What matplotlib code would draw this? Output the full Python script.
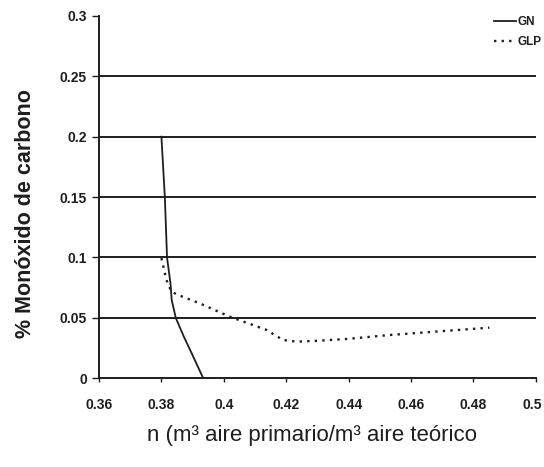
import matplotlib
matplotlib.use("Agg")
import matplotlib.pyplot as plt
import matplotlib.transforms as mtransforms

gn_x = [0.3800, 0.3811, 0.3818, 0.3829, 0.3833, 0.3846, 0.3872, 0.3897, 0.3934]
gn_y = [0.200, 0.150, 0.100, 0.0786, 0.0648, 0.050, 0.0344, 0.0207, 0.000]

glp_x = [0.3800, 0.3816, 0.3832, 0.3853, 0.3923, 0.4019, 0.4137, 0.4163, 0.4190,
         0.4233, 0.4297, 0.4393, 0.4531, 0.4851]
glp_y = [0.0995, 0.0814, 0.0717, 0.0690, 0.0620, 0.0510, 0.0400, 0.0358, 0.0317,
         0.0303, 0.0310, 0.0325, 0.0358, 0.0419]

xticks = [0.36, 0.38, 0.4, 0.42, 0.44, 0.46, 0.48, 0.5]
xticklabels = ["0.36", "0.38", "0.4", "0.42", "0.44", "0.46", "0.48", "0.5"]
yticks = [0, 0.05, 0.1, 0.15, 0.2, 0.25, 0.3]
yticklabels = ["0", "0.05", "0.1", "0.15", "0.2", "0.25", "0.3"]
grid_y = [0.05, 0.1, 0.15, 0.2, 0.25]

plt.rcParams['font.family'] = ['Liberation Sans', 'DejaVu Sans']
ink = '#1e1e1e'

fig = plt.figure(figsize=(5.44, 4.67), dpi=100)
ax = fig.add_axes([0.182, 0.19, 0.803, 0.776])

for g in grid_y:
    ax.axhline(g, color=ink, lw=1.4, zorder=1)

ax.plot(gn_x, gn_y, color=ink, lw=1.3, label='GN', zorder=3)
ax.plot(glp_x, glp_y, color=ink, lw=1.7, linestyle=(0, (1.0, 2.2)), label='GLP', zorder=3)

ax.set_xlim(0.36, 0.5)
ax.set_ylim(0, 0.3)
ax.set_xticks(xticks)
ax.set_xticklabels(xticklabels, fontweight='bold', fontsize=10)
ax.set_yticks(yticks)
ax.set_yticklabels(yticklabels, fontweight='bold', fontsize=10)
ax.tick_params(axis='x', direction='out', length=3, width=1, color=ink, pad=11, labelcolor=ink)
ax.tick_params(axis='y', direction='out', length=4.8, width=1, color=ink, pad=4, labelcolor=ink)

# keep the last x tick label inside the figure edge
last = ax.get_xticklabels()[-1]
last.set_transform(last.get_transform() +
                   mtransforms.ScaledTranslation(-4 / 100, 0, fig.dpi_scale_trans))

for s in ['top', 'right']:
    ax.spines[s].set_visible(False)
for s in ['left', 'bottom']:
    ax.spines[s].set_color(ink)
    ax.spines[s].set_linewidth(1.4)

ax.set_ylabel('% Monóxido de carbono', fontweight='bold', fontsize=15.5, color=ink,
              va='center', ha='center')
ax.yaxis.set_label_coords(-0.169, 0.455)
ax.set_xlabel('n (m³ aire primario/m³ aire teórico', fontsize=16, color=ink,
              va='center', ha='center')
ax.xaxis.set_label_coords(0.487, -0.159)

leg = ax.legend(loc='upper right', bbox_to_anchor=(542 / 544, 1 - 16 / 467),
                bbox_transform=fig.transFigure, frameon=False,
                prop={'weight': 'bold', 'size': 8.5}, handlelength=1.9, handletextpad=0.15,
                labelspacing=0.7, borderaxespad=0, borderpad=0)
for t in leg.get_texts():
    t.set_color(ink)

fig.savefig('out.png', dpi=100)
